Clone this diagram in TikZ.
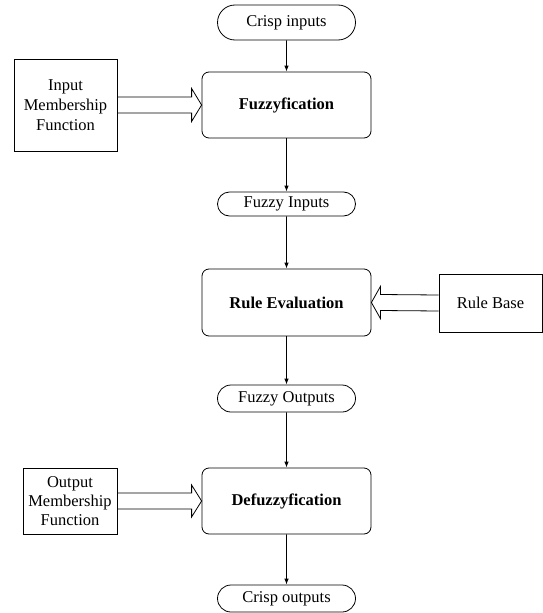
\documentclass[tikz,border=0pt]{standalone}
\usepackage{fontspec}
\setmainfont{Liberation Serif}
\usetikzlibrary{arrows.meta,shapes.misc,calc}
\begin{document}
\begin{tikzpicture}[x=1pt,y=-1pt,
    font=\fontsize{16.5}{20}\selectfont,
    line width=0.8pt,
    stage/.style={draw, rounded corners=7pt, minimum width=169pt, minimum height=66pt, inner sep=0pt, font=\fontsize{16.5}{20}\selectfont\bfseries},
    term/.style={draw, rounded rectangle, minimum width=138pt, inner sep=0pt},
    side/.style={draw, align=center, inner sep=0pt},
    flow/.style={-{Latex[length=6pt,width=4.5pt]}}]
    \useasboundingbox (0,0) rectangle (543,613);
    \node[term, minimum height=35pt] (cin) at (286.5,22.5) {Crisp inputs};
    \node[stage] (fuz) at (286.5,105) {Fuzzyfication};
    \node[side, minimum width=103pt, minimum height=92pt] (imf) at (65.5,105) {Input\\Membership\\Function};
    \node[term, minimum height=24pt] (fin) at (286.5,204) {Fuzzy Inputs};
    \node[stage, minimum height=67pt] (rule) at (286.5,302.5) {Rule Evaluation};
    \node[side, minimum width=103pt, minimum height=58pt] (rb) at (490.5,303) {Rule Base};
    \node[term, minimum height=27pt] (fout) at (286.5,398.5) {Fuzzy Outputs};
    \node[stage] (defuz) at (286.5,501) {Defuzzyfication};
    \node[side, minimum width=94pt, minimum height=66pt, font=\fontsize{16.5}{19}\selectfont] (omf) at (70,501) {Output\\Membership\\Function};
    \node[term, minimum height=27pt] (cout) at (286.5,598.5) {Crisp outputs};
    \draw[flow] (cin) -- (fuz);
    \draw[flow] (fuz) -- (fin);
    \draw[flow] (fin) -- (rule);
    \draw[flow] (rule) -- (fout);
    \draw[flow] (fout) -- (defuz);
    \draw[flow] (defuz) -- (cout);
    \draw ($(imf.east)+(0,-8)$) -- ($(fuz.west)+(-10,-8)$) -- ($(fuz.west)+(-10,-16.5)$) -- (fuz.west)
        -- ($(fuz.west)+(-10,16.5)$) -- ($(fuz.west)+(-10,8)$) -- ($(imf.east)+(0,8)$);
    \draw ($(rb.west)+(0,-8)$) -- ($(rule.east)+(9,-8)$) -- ($(rule.east)+(9,-16)$) -- (rule.east)
        -- ($(rule.east)+(9,16)$) -- ($(rule.east)+(9,8)$) -- ($(rb.west)+(0,8)$);
    \draw ($(omf.east)+(0,-8)$) -- ($(defuz.west)+(-10,-8)$) -- ($(defuz.west)+(-10,-16)$) -- (defuz.west)
        -- ($(defuz.west)+(-10,16)$) -- ($(defuz.west)+(-10,8)$) -- ($(omf.east)+(0,8)$);
\end{tikzpicture}
\end{document}
